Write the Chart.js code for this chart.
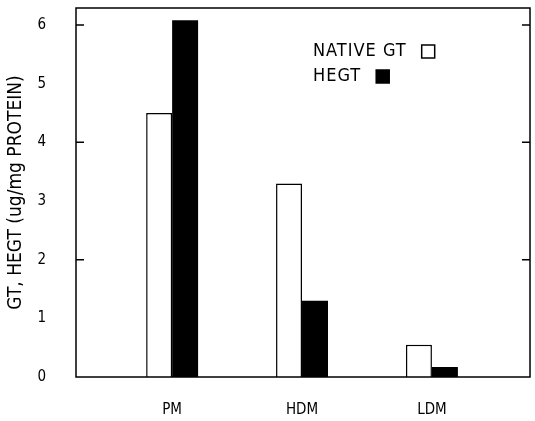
<!DOCTYPE html>
<html>
<head>
<meta charset="utf-8">
<script src="https://cdn.jsdelivr.net/npm/chart.js@4"></script>
<style>
  html, body { margin: 0; padding: 0; background: #fff; }
  #wrap { width: 535px; height: 421px; }
</style>
</head>
<body>
<div id="wrap"><canvas id="barChart"></canvas></div>
<script>
// categories and values
var categories = ["PM", "HDM", "LDM"];
var nativeGT = [4.5, 3.3, 0.55];
var hegt = [6.08, 1.3, 0.17];
var yTicks = [0, 1, 2, 3, 4, 5, 6];
var yMarks = [2, 4, 6];

var FONT = "'DejaVu Sans Condensed', 'DejaVu Sans', sans-serif";

// frame, inward tick marks and the in-plot legend
var framePlugin = {
    id: "frame",
    afterDraw: function (chart) {
        var ctx = chart.ctx;
        var a = chart.chartArea;
        var y = chart.scales.y;
        ctx.save();
        ctx.strokeStyle = "#000";
        ctx.lineWidth = 1.5;
        ctx.strokeRect(a.left, a.top, a.right - a.left, a.bottom - a.top);
        ctx.beginPath();
        yMarks.forEach(function (v) {
            var py = y.getPixelForValue(v);
            ctx.moveTo(a.left, py);
            ctx.lineTo(a.left + 8, py);
            ctx.moveTo(a.right, py);
            ctx.lineTo(a.right - 8, py);
        });
        ctx.stroke();

        // legend: text then box on the right
        ctx.font = "18px " + FONT;
        ctx.letterSpacing = "1px";
        ctx.textBaseline = "middle";
        var rows = [
            { ds: chart.data.datasets[0], x: 313, y: 51 },
            { ds: chart.data.datasets[1], x: 313, y: 76 },
        ];
        rows.forEach(function (r) {
            ctx.fillStyle = "#000";
            ctx.fillText(r.ds.label, r.x, r.y);
            var bx = r.x + ctx.measureText(r.ds.label).width + 15;
            ctx.fillStyle = r.ds.backgroundColor;
            ctx.fillRect(bx, r.y - 6, 13, 13);
            ctx.lineWidth = 1.5;
            ctx.strokeRect(bx, r.y - 6, 13, 13);
        });
        ctx.restore();
    },
};

var barChartData = {
    datasets: [
        {
            label: "NATIVE GT",
            backgroundColor: "#ffffff",
            borderColor: "#000000",
            borderWidth: 1.5,
            data: categories.map(function (c, i) { return { x: i, y: nativeGT[i] }; }),
        },
        {
            label: "HEGT",
            backgroundColor: "#000000",
            borderColor: "#000000",
            borderWidth: 0,
            data: categories.map(function (c, i) { return { x: i, y: hegt[i] }; }),
        },
    ],
};

new Chart(document.getElementById("barChart"), {
    type: "bar",
    data: barChartData,
    plugins: [framePlugin],
    options: {
        responsive: true,
        maintainAspectRatio: false,
        animation: false,
        layout: { autoPadding: false, padding: { top: 8, right: 5, left: 0, bottom: 0 } },
        datasets: { bar: { categoryPercentage: 0.4, barPercentage: 1.0, grouped: true } },
        plugins: { legend: { display: false }, tooltip: { enabled: false } },
        scales: {
            x: {
                type: "linear",
                min: -0.74,
                max: 2.755,
                offset: false,
                grid: { display: false, drawTicks: false },
                border: { display: false },
                afterBuildTicks: function (scale) {
                    scale.ticks = categories.map(function (c, i) { return { value: i }; });
                },
                afterFit: function (scale) {
                    scale.height = 44;
                    scale.paddingLeft = 0;
                    scale.paddingRight = 0;
                },
                ticks: {
                    padding: 24,
                    color: "#000",
                    font: { family: FONT, size: 15 },
                    callback: function (v) { return categories[v]; },
                },
            },
            y: {
                min: 0,
                max: 6.29,
                grid: { display: false, drawTicks: false },
                border: { display: false },
                afterBuildTicks: function (scale) {
                    scale.ticks = yTicks.map(function (v) { return { value: v }; });
                },
                afterFit: function (scale) {
                    scale.width = 76;
                    scale.paddingTop = 0;
                    scale.paddingBottom = 0;
                },
                ticks: {
                    padding: 30,
                    color: "#000",
                    font: { family: FONT, size: 15 },
                },
                title: {
                    display: true,
                    text: "GT, HEGT (ug/mg PROTEIN)",
                    color: "#000",
                    font: { family: FONT, size: 19 },
                    padding: { top: 5, bottom: 0 },
                },
            },
        },
    },
});
</script>
</body>
</html>
